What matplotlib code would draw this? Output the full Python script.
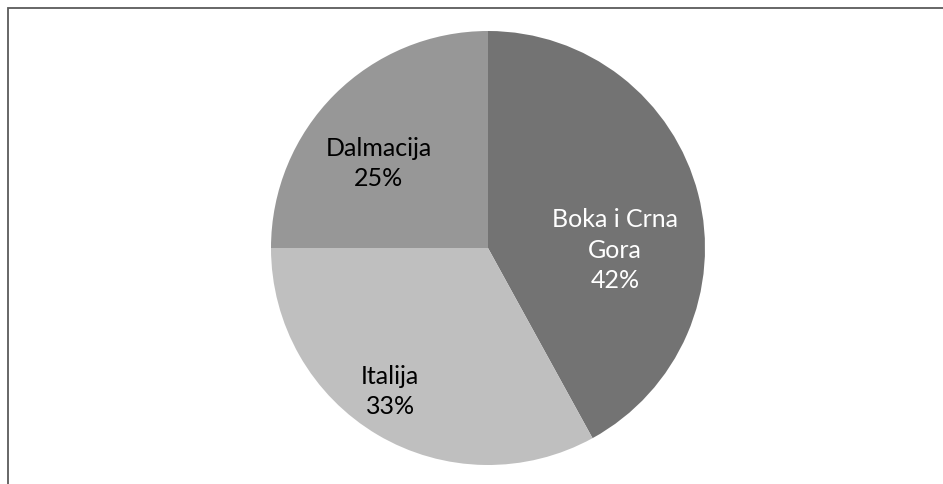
import matplotlib
matplotlib.use("Agg")
import matplotlib.pyplot as plt
from matplotlib.patches import Rectangle

categories = ["Boka i Crna\nGora", "Italija", "Dalmacija"]
values = [42, 33, 25]
colors = ["#737373", "#bfbfbf", "#979797"]
text_colors = ["white", "black", "black"]
# label positions relative to pie center, in units of radius
label_offsets = [(0.585, -0.01), (-0.45, -0.66), (-0.505, 0.39)]

W, H = 943, 484
fig = plt.figure(figsize=(W / 100, H / 100), dpi=100)
ax = fig.add_axes([0, 0, 1, 1])

cx, cy, r = 488, H - 248, 217
wedges, _ = ax.pie(values, colors=colors, startangle=90, counterclock=False,
                   center=(cx, cy), radius=r, wedgeprops=dict(linewidth=0),
                   frame=True)
ax.set_xlim(0, W)
ax.set_ylim(0, H)
ax.set_aspect("equal")
ax.axis("off")

font = ["Lato", "DejaVu Sans"]
for cat, v, tc, (ox, oy) in zip(categories, values, text_colors, label_offsets):
    ax.text(cx + ox * r, cy + oy * r, f"{cat}\n{v}%", ha="center", va="center",
            color=tc, fontsize=18, family=font, linespacing=1.38)

# outer chart frame (partially cropped)
ax.add_patch(Rectangle((7.5, -20), 1000, H - 7.5 + 20, fill=False,
                       edgecolor="#5a5a5a", linewidth=1.3, clip_on=False))

fig.savefig("out.png", dpi=100, facecolor="white")
